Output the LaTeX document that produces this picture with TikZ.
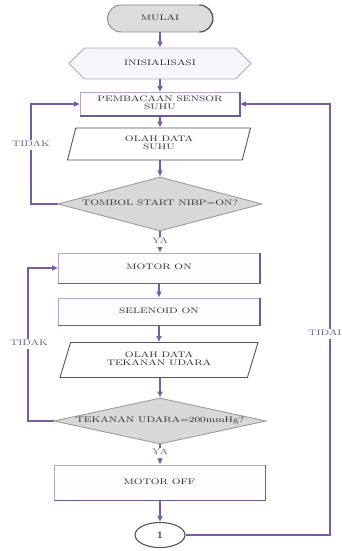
\documentclass[tikz,border=0pt]{standalone}
\usepackage{fontspec}
\usepackage{graphicx}
\usetikzlibrary{shapes.geometric,shapes.misc,arrows.meta}
\definecolor{connc}{HTML}{7A5BA8}
\definecolor{txt}{HTML}{2E2A38}
\definecolor{labc}{HTML}{6A5A8C}
\definecolor{boxborder}{HTML}{B4A6D0}
\definecolor{boxdark}{HTML}{6D5A99}
\definecolor{boxfill}{HTML}{FDFCFF}
\definecolor{hexfill}{HTML}{F8F6FC}
\definecolor{termfill}{HTML}{DCDCDC}
\definecolor{termborder}{HTML}{8A8A8A}
\definecolor{iob}{HTML}{555555}
\definecolor{decfill}{HTML}{D8D8D8}
\definecolor{decb}{HTML}{9A9A9A}
\newcommand{\wt}[1]{\scalebox{1.33}[1]{\renewcommand{\arraystretch}{0.95}\begin{tabular}{@{}c@{}}#1\end{tabular}}}
\tikzset{
  base/.style={font=\fontsize{8}{8.5}\selectfont, text=txt, align=center, inner sep=0pt, line width=0.9pt},
  term/.style={base, rounded rectangle, draw=termborder, fill=termfill, minimum width=105pt, minimum height=27pt},
  hexa/.style={base, chamfered rectangle, chamfered rectangle xsep=14pt, chamfered rectangle ysep=11.4pt, draw=boxborder, fill=hexfill, minimum width=182pt, minimum height=23pt},
  proc/.style={base, rectangle, draw=boxborder, fill=boxfill},
  io/.style={base, trapezium, trapezium stretches body, draw=iob, fill=white},
  dec/.style={base, diamond, draw=decb, fill=decfill},
  circ/.style={base, ellipse, draw=iob, fill=white, line width=1.1pt, minimum width=50pt, minimum height=25pt, font=\fontsize{10}{11}\selectfont\bfseries},
  flow/.style={draw=connc, line width=1.6pt, -{Latex[length=6pt,width=6pt]}},
  edge/.style={draw=boxdark, line width=1.1pt},
  lab/.style={base, text=labc, fill=white, inner sep=1pt},
}
\begin{document}
\begin{tikzpicture}[x=1pt,y=-1pt]
\useasboundingbox (0,0) rectangle (342,551);
\node[term] (start) at (160,18.5) {\wt{MULAI}};
\node[hexa] (init) at (160,63.5) {\wt{INISIALISASI}};
\node[proc, minimum width=159pt, minimum height=23pt] (read) at (160,104) {\wt{PEMBACAAN SENSOR\\SUHU}};
\node[io, trapezium left angle=63, trapezium right angle=117, minimum width=183pt, minimum height=32pt] (p1) at (159,144) {\wt{OLAH DATA\\SUHU}};
\node[dec, shape aspect=3.8, minimum width=204pt, minimum height=54pt] (d1) at (160,204) {\wt{TOMBOL START NIBP=ON?}};
\node[proc, minimum width=201pt, minimum height=30pt] (mon) at (159,268) {\wt{MOTOR ON}};
\node[proc, minimum width=201pt, minimum height=27pt] (sol) at (159,311.5) {\wt{SELENOID ON}};
\node[io, trapezium left angle=57, trapezium right angle=123, minimum width=198pt, minimum height=35pt] (p2) at (159,360) {\wt{OLAH DATA\\TEKANAN UDARA}};
\node[dec, shape aspect=4.6, minimum width=212pt, minimum height=46pt] (d2) at (160,421) {\wt{TEKANAN UDARA=200mmHg?}};
\node[proc, minimum width=211pt, minimum height=35pt] (moff) at (159.5,482.5) {\wt{MOTOR OFF}};
\node[circ] (c1) at (160,535) {1};
% shadow edges
\foreach \n in {read,mon,sol,moff}{\draw[edge] (\n.north east) -- (\n.south east) -- (\n.south west);}
\draw[draw=termborder!60!black, line width=1.1pt] ([xshift=-13.5pt,yshift=13.5pt]start.east) arc[start angle=90, end angle=-90, radius=13.5pt];
% coordinates for loops
\coordinate (lx1) at (31,0);
\coordinate (lx2) at (28,0);
\coordinate (rx) at (330,0);
% straight connectors
\draw[flow] (start.south) -- (init.north);
\draw[flow] (init.south) -- (init.south |- read.north);
\draw[flow] (read.south) -- (read.south |- p1.north);
\draw[flow] (p1.south -| d1.north) -- (d1.north);
\draw[flow] (d1.south) -- (d1.south |- mon.north);
\draw[flow] (mon.south) -- (sol.north);
\draw[flow] (sol.south) -- (sol.south |- p2.north);
\draw[flow] (p2.south -| d2.north) -- (d2.north);
\draw[flow] (d2.south) -- (d2.south |- moff.north);
\draw[flow] (moff.south -| c1.north) -- (c1.north);
% loops
\draw[flow] (d1.west) -- (d1.west -| lx1) |- (read.west);
\draw[flow] (d2.west) -- (d2.west -| lx2) |- (mon.west);
\draw[flow] (c1.east) -- (c1.east -| rx) |- (read.east);
% labels
\node[lab] (ya1) at (160,242) {\wt{YA}};
\node[lab] (ya2) at (160,453) {\wt{YA}};
\node[lab] (t1) at (31,145) {\wt{TIDAK}};
\node[lab] (t2) at (29,344) {\wt{TIDAK}};
\node[lab] (t3) at (325,334) {\wt{TIDAI}};
\end{tikzpicture}
\end{document}
